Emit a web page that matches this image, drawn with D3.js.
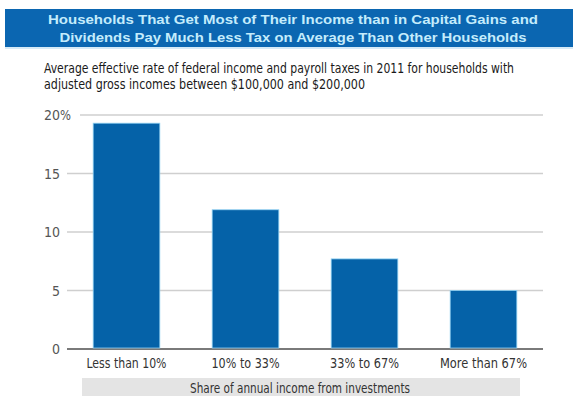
<!DOCTYPE html>
<html>
<head>
<meta charset="utf-8">
<script src="https://cdn.jsdelivr.net/npm/d3@7"></script>
<style>
  html, body { margin: 0; padding: 0; background: #fff; }
  svg { display: block; }
  .narrow { font-family: "Liberation Sans Narrow", "Arial Narrow", "DejaVu Sans Condensed", sans-serif; font-stretch: condensed; }
</style>
</head>
<body>
<svg id="chart" width="577" height="396"></svg>
<script>
// Income-share groups and the average effective tax rate (%) for each
const categories = ["Less than 10%", "10% to 33%", "33% to 67%", "More than 67%"];
const taxRates = [19.3, 11.9, 7.7, 5.0];
const yTicks = [0, 5, 10, 15, 20];
const titleLines = [
  "Households That Get Most of Their Income than in Capital Gains and",
  "Dividends Pay Much Less Tax on Average Than Other Households"
];
const subtitleLines = [
  "Average effective rate of federal income and payroll taxes in 2011 for households with",
  "adjusted gross incomes between $100,000 and $200,000"
];
const xAxisTitle = "Share of annual income from investments";

const svg = d3.select("#chart");

// Header banner
svg.append("rect").attr("x", 5).attr("y", 9).attr("width", 568).attr("height", 38)
  .attr("fill", "#0b66b1");
svg.append("rect").attr("x", 5).attr("y", 47).attr("width", 568).attr("height", 2)
  .attr("fill", "#d6eaf7");
const titleWidths = [490, 467];
svg.selectAll("text.title").data(titleLines).join("text")
  .attr("class", "title")
  .attr("x", 293).attr("y", (d, i) => 24 + i * 18)
  .attr("text-anchor", "middle")
  .attr("font-family", "Liberation Sans, Arial, sans-serif")
  .attr("font-weight", "bold").attr("font-size", 13.5)
  .attr("fill", "#c4ecfc")
  .attr("textLength", (d, i) => titleWidths[i])
  .attr("lengthAdjust", "spacingAndGlyphs")
  .text(d => d);

// Subtitle
const subWidths = [470, 321];
svg.selectAll("text.sub").data(subtitleLines).join("text")
  .attr("class", "sub narrow")
  .attr("x", 44).attr("y", (d, i) => 73 + i * 16)
  .attr("font-size", 13.5).attr("fill", "#1a1a1a")
  .attr("textLength", (d, i) => subWidths[i])
  .attr("lengthAdjust", "spacingAndGlyphs")
  .text(d => d);

// Scales
const x = d3.scaleBand().domain(categories).range([67, 543])
  .paddingInner(0.44).paddingOuter(0.22);
const y = d3.scaleLinear().domain([0, 20]).range([349, 115]);

// Gridlines
svg.append("g").selectAll("line").data(yTicks).join("line")
  .attr("x1", d => d === 20 ? 80 : 67).attr("x2", 543)
  .attr("y1", d => y(d)).attr("y2", d => y(d))
  .attr("stroke", d => d === 0 ? "#7a7a7a" : "#cfcfcf")
  .attr("stroke-width", d => d === 0 ? 2 : 1.6);

// Y tick labels: numbers right-aligned, percent sign hanging on the top tick
const yLab = svg.append("g").attr("class", "narrow").attr("font-size", 14).attr("fill", "#555");
yLab.selectAll("text.num").data(yTicks).join("text")
  .attr("class", "num")
  .attr("x", 60).attr("y", d => y(d) + 5)
  .attr("text-anchor", "end")
  .text(d => d);
yLab.append("text").attr("x", 60).attr("y", y(20) + 5)
  .attr("textLength", 11).attr("lengthAdjust", "spacingAndGlyphs").text("%");

// Bars
svg.append("g").selectAll("rect").data(taxRates).join("rect")
  .attr("x", (d, i) => x(categories[i]))
  .attr("width", x.bandwidth())
  .attr("y", d => y(d))
  .attr("height", d => y(0) - y(d) - 1)
  .attr("fill", "#0562a8")
  .attr("stroke", "#8fd0f2").attr("stroke-width", 0.8);

// Category labels
const labelWidths = [80, 68, 69, 87];
svg.append("g").selectAll("text").data(categories).join("text")
  .attr("class", "narrow")
  .attr("x", d => x(d) + x.bandwidth() / 2).attr("y", 368)
  .attr("text-anchor", "middle")
  .attr("font-size", 14).attr("fill", "#333")
  .attr("textLength", (d, i) => labelWidths[i])
  .attr("lengthAdjust", "spacingAndGlyphs")
  .text(d => d);

// Axis title band
svg.append("rect").attr("x", 82).attr("y", 378).attr("width", 438).attr("height", 18)
  .attr("fill", "#e4e4e4");
svg.append("text").attr("class", "narrow")
  .attr("x", 300).attr("y", 393)
  .attr("text-anchor", "middle")
  .attr("font-size", 13.5).attr("fill", "#333")
  .attr("textLength", 220).attr("lengthAdjust", "spacingAndGlyphs")
  .text(xAxisTitle);
</script>
</body>
</html>
